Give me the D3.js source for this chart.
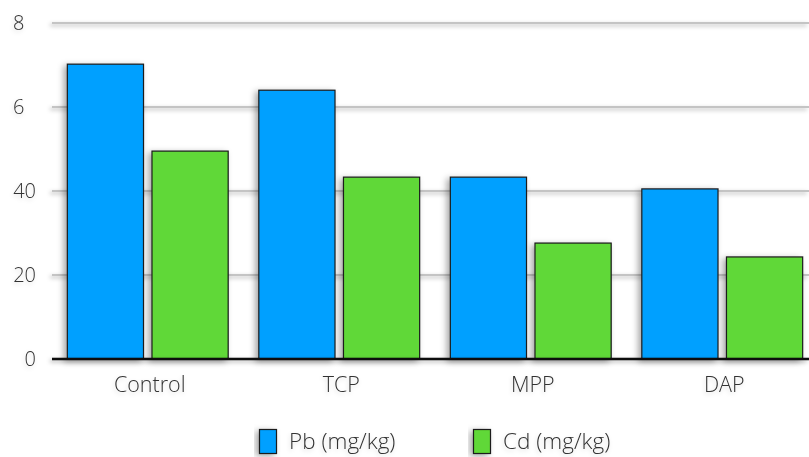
<!DOCTYPE html>
<html>
<head>
<meta charset="utf-8">
<script src="https://cdn.jsdelivr.net/npm/d3@7"></script>
<style>
  html, body { margin: 0; padding: 0; background: #fff; }
  svg { display: block; }
  text { font-family: "Open Sans", sans-serif; font-weight: 300; fill: #333; }
</style>
</head>
<body>
<svg id="chart" width="809" height="457"></svg>
<script>
// ---- data ----
const categories = ["Control", "TCP", "MPP", "DAP"];
const seriesNames = ["Pb (mg/kg)", "Cd (mg/kg)"];
const pbValues = [70.2, 64, 43.3, 40.5];
const cdValues = [49.5, 43.3, 27.6, 24.3];
const tickValues = [0, 20, 40, 60, 80];
const tickLabels = ["0", "20", "40", "6", "8"];
const colors = ["#00A0FF", "#60D837"];

(function () {
const svg = d3.select("#chart");
const W = 809, H = 457;
const mLeft = 52, mRight = 818, mTop = 23, mBottom = 359;

const defs = svg.append("defs");
const shadow = defs.append("filter").attr("id", "shadow")
  .attr("x", "-30%").attr("y", "-30%").attr("width", "160%").attr("height", "160%");
shadow.append("feDropShadow").attr("dx", -3).attr("dy", 2).attr("stdDeviation", 3)
  .attr("flood-color", "#000").attr("flood-opacity", 0.35);
const lshadow = defs.append("filter").attr("id", "lshadow")
  .attr("filterUnits", "userSpaceOnUse")
  .attr("x", 0).attr("y", 0).attr("width", W).attr("height", H);
lshadow.append("feDropShadow").attr("dx", -2).attr("dy", 2).attr("stdDeviation", 2)
  .attr("flood-color", "#000").attr("flood-opacity", 0.3);
const tshadow = defs.append("filter").attr("id", "tshadow")
  .attr("x", "-30%").attr("y", "-50%").attr("width", "160%").attr("height", "200%");
tshadow.append("feDropShadow").attr("dx", -1).attr("dy", 2).attr("stdDeviation", 2)
  .attr("flood-color", "#000").attr("flood-opacity", 0.15);

const y = d3.scaleLinear().domain([0, 80]).range([mBottom, mTop]);
const x0 = d3.scaleBand().domain(categories).range([mLeft, mRight])
  .paddingInner(0.16).paddingOuter(0.08);
const x1 = d3.scaleBand().domain(seriesNames).range([0, x0.bandwidth()]).paddingInner(0.1);

// gridlines
svg.append("g").attr("filter", "url(#lshadow)")
  .selectAll("line").data(tickValues.filter(d => d > 0)).join("line")
  .attr("x1", mLeft).attr("x2", W)
  .attr("y1", d => y(d)).attr("y2", d => y(d))
  .attr("stroke", "#c4c4c4").attr("stroke-width", 2);

// y labels
svg.append("g").selectAll("text").data(tickValues).join("text")
  .attr("x", (d, i) => 36 - (String(d).length - tickLabels[i].length) * 11.5)
  .attr("y", d => y(d) + 7)
  .attr("text-anchor", "end")
  .attr("font-size", 20)
  .attr("filter", "url(#tshadow)")
  .text((d, i) => tickLabels[i]);

// bars
const rows = categories.map((c, i) => ({ cat: c, vals: [pbValues[i], cdValues[i]] }));
const groups = svg.append("g").selectAll("g").data(rows).join("g")
  .attr("transform", d => `translate(${x0(d.cat)},0)`);
groups.selectAll("rect").data(d => d.vals.map((v, j) => ({ v, s: seriesNames[j], j })))
  .join("rect")
  .attr("x", d => x1(d.s))
  .attr("y", d => y(d.v))
  .attr("width", x1.bandwidth())
  .attr("height", d => y(0) - y(d.v))
  .attr("fill", d => colors[d.j])
  .attr("stroke", "#1a1a1a").attr("stroke-width", 1.2)
  .attr("filter", "url(#shadow)");

// baseline
svg.append("g").attr("filter", "url(#lshadow)")
  .append("line").attr("x1", mLeft).attr("x2", W)
  .attr("y1", y(0)).attr("y2", y(0))
  .attr("stroke", "#111").attr("stroke-width", 2.4);

// x labels
svg.append("g").selectAll("text").data(categories).join("text")
  .attr("x", d => x0(d) + x0.bandwidth() / 2 + 2)
  .attr("y", 392)
  .attr("text-anchor", "middle")
  .attr("font-size", 21.5)
  .attr("filter", "url(#tshadow)")
  .text(d => d);

// legend
const legendX = [259, 473];
const leg = svg.append("g").selectAll("g").data(seriesNames).join("g")
  .attr("transform", (d, i) => `translate(${legendX[i]},429)`);
leg.append("rect").attr("x", 0.5).attr("y", 0.5).attr("width", 17).attr("height", 24)
  .attr("fill", (d, i) => colors[i]).attr("stroke", "#1a1a1a").attr("stroke-width", 1.2)
  .attr("filter", "url(#shadow)");
leg.append("text").attr("x", 30).attr("y", 20).attr("font-size", 22.5)
  .attr("filter", "url(#tshadow)")
  .text(d => d);
})();
</script>
</body>
</html>
